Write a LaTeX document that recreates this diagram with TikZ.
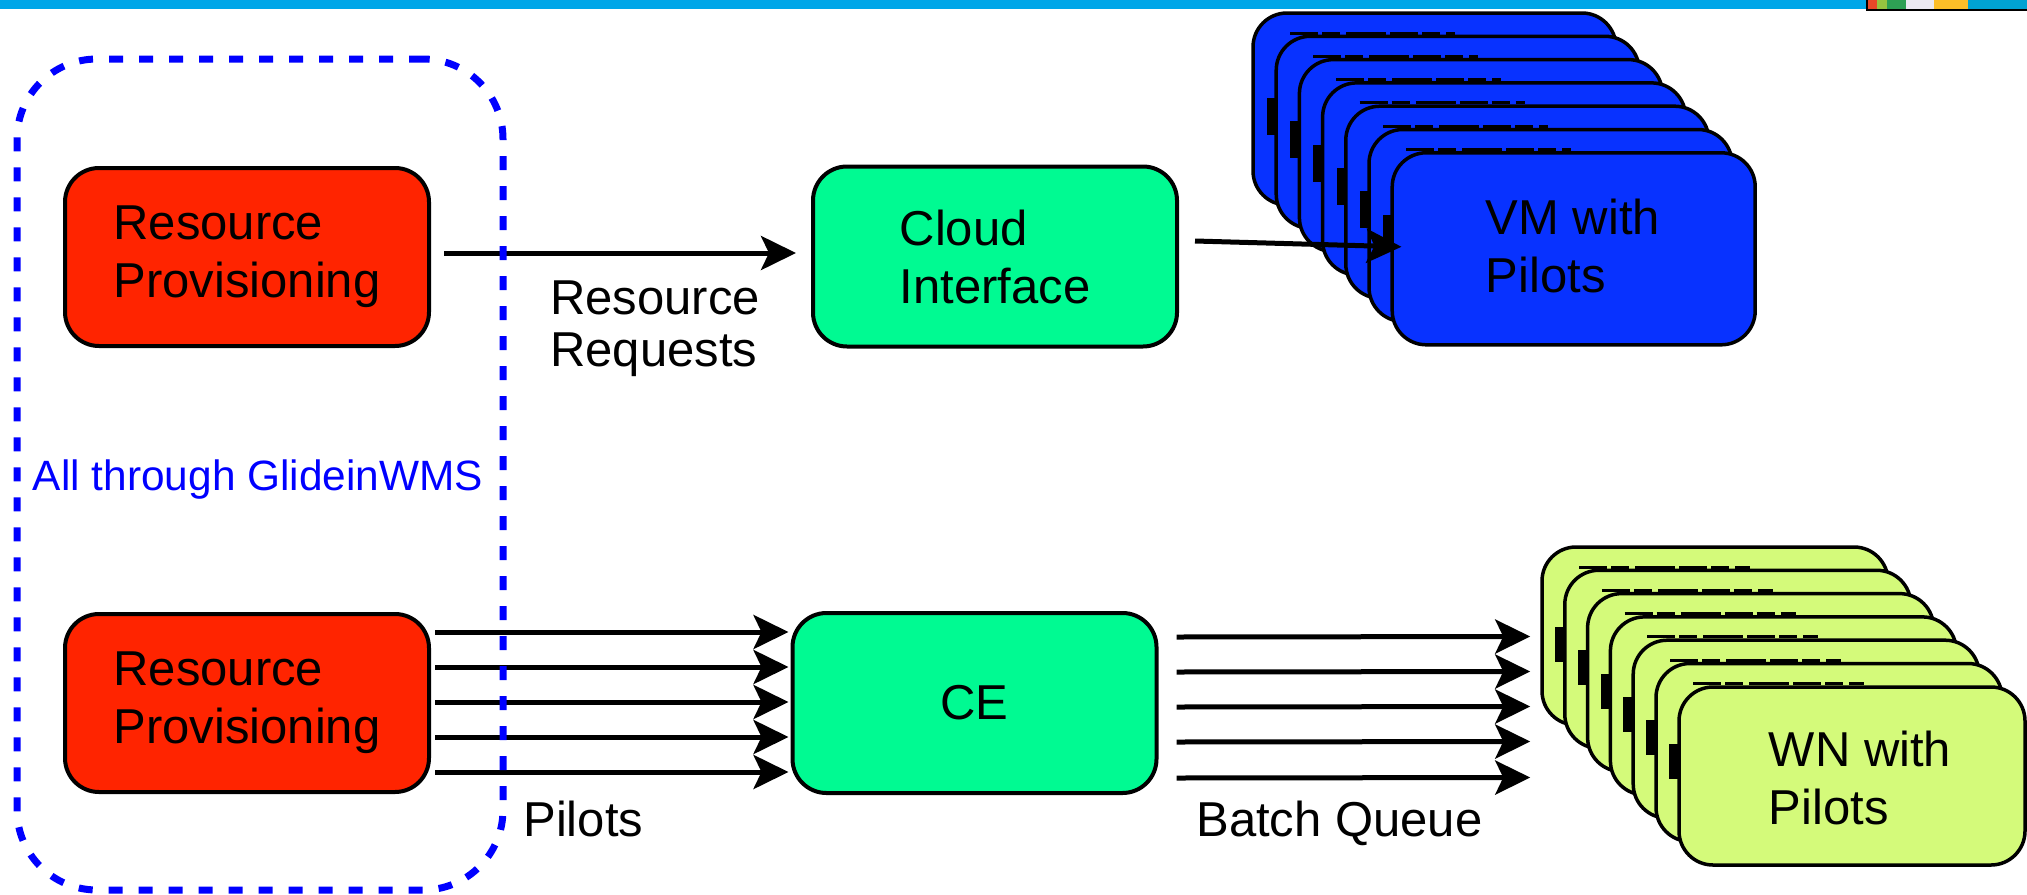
\documentclass[tikz,border=0pt]{standalone}
\usepackage{fontspec}
\setmainfont{Liberation Sans}
\usetikzlibrary{arrows.meta,calc}

\definecolor{provred}{RGB}{255,36,0}
\definecolor{ifgreen}{RGB}{0,250,146}
\definecolor{vmblue}{RGB}{8,50,255}
\definecolor{wnlime}{RGB}{212,250,122}
\definecolor{gwblue}{RGB}{0,0,255}
\definecolor{barblue}{RGB}{0,166,232}
\definecolor{logored}{RGB}{232,72,40}
\definecolor{logolime}{RGB}{150,196,64}
\definecolor{logogreen}{RGB}{46,160,84}
\definecolor{logowhite}{RGB}{236,233,242}
\definecolor{logoyellow}{RGB}{253,190,40}
\definecolor{logoblue}{RGB}{0,162,210}

\begin{document}
\begin{tikzpicture}[x=0.5pt,y=-0.5pt,
  box/.style={draw=black, line width=2pt, rounded corners=17pt, align=left,
    inner sep=0pt, font=\fontsize{24.5}{29}\selectfont},
  provbox/.style={box, fill=provred, minimum width=182pt, minimum height=89pt},
  ifbox/.style={box, fill=ifgreen, minimum width=182pt, minimum height=90pt},
  vmcard/.style={box, fill=vmblue, line width=1.75pt, minimum width=181.5pt, minimum height=96pt},
  wncard/.style={box, fill=wnlime, line width=1.75pt, minimum width=173pt, minimum height=89pt},
  hidmark/.style={line width=1.5pt, dash pattern=on 14pt off 2pt on 9pt off 3pt on 20pt off 2pt},
  arr/.style={line width=2.5pt, -{Stealth[length=17.5pt,width=17pt,inset=4pt]}},
  lbl/.style={inner sep=0pt, align=left, font=\fontsize{24.5}{26}\selectfont},
  glidebox/.style={draw=gwblue, line width=3.5pt, dash pattern=on 7pt off 8pt,
    rounded corners=40pt, minimum width=243pt, minimum height=415.5pt, inner sep=0pt}
]
\useasboundingbox (0,0) rectangle (2027,894);
\fill[white] (0,0) rectangle (2027,894);

% header strip with the logo corner
\fill[barblue] (0,0) rectangle (2027,9);
\fill[logored] (1867,0) rectangle (1880,9);
\fill[logolime] (1877,0) rectangle (1887,9);
\fill[logogreen] (1887,0) rectangle (1906,9);
\fill[logowhite] (1906,0) rectangle (1934,9);
\fill[logoyellow] (1934,0) rectangle (1968,9);
\fill[logoblue] (1968,0) rectangle (2027,9);
\draw[black, line width=1pt] (1867,0) -- (1867,9.5) -- (2027,9.5);

% provisioning and interface boxes
\node[provbox] (rp1) at (247,257) {Resource\\Provisioning};
\node[provbox] (rp2) at (247,703) {Resource\\Provisioning};
\node[ifbox] (cloud) at (995,256.5) {Cloud\\Interface};
\node[ifbox] (ce) at (974.5,703) {CE};

% stack of virtual machines
\foreach \i in {0,...,5}{
  \pgfmathsetmacro{\cardx}{1253+23.2*\i}
  \pgfmathsetmacro{\cardy}{13+23.3*\i}
  \node[vmcard] (vm\i) at (\cardx+181.5,\cardy+96) {};
  \fill (\cardx+14,\cardy+85) rectangle (\cardx+22,\cardy+122);
  \draw[hidmark] (\cardx+37,\cardy+20) -- (\cardx+202,\cardy+20);
}
\node[vmcard] (vm6) at (1573.7,248.8) {};
\node[box, draw=none] (vmtext) at (1573,246) {VM with\\Pilots};

% stack of worker nodes
\foreach \i in {0,...,5}{
  \pgfmathsetmacro{\cardx}{1542+22.8*\i}
  \pgfmathsetmacro{\cardy}{547+23.3*\i}
  \node[wncard] (wn\i) at (\cardx+173,\cardy+89) {};
  \fill (\cardx+13,\cardy+80) rectangle (\cardx+22,\cardy+115);
  \draw[hidmark] (\cardx+37,\cardy+20) -- (\cardx+208,\cardy+20);
}
\node[wncard] (wn6) at (1852,776) {};
\node[box, draw=none] (wntext) at (1860,778) {WN with\\Pilots};

% connectors
\draw[arr] ([shift={(13,-4)}]rp1.east) -- ([shift={(-15,-3.5)}]cloud.west);
\draw[arr] ([shift={(16,-15.5)}]cloud.east) -- ([shift={(11,-2)}]vm6.west);
\foreach \dy in {-71,-36,-1,34,69}
  \draw[arr] ([shift={(4,\dy)}]rp2.east) -- ([shift={(-2,\dy)}]ce.west);
\foreach \dy in {-66,-31,4,39,75}
  \draw[arr] ([shift={(18,\dy)}]ce.east) -- ([shift={(-10,\dy+66.5)}]wn0.west);

% labels
\node[lbl] (reqlbl) at (655,329) {Resource\\Requests};
\node[lbl, anchor=base west] (pilotlbl) at (523,836) {Pilots};
\node[lbl, anchor=base west] (batchlbl) at (1196,836) {Batch Queue};

% GlideinWMS scope
\node[glidebox] (gwms) at (260,474.5) {};
\node[inner sep=0pt, anchor=base, text=gwblue, font=\fontsize{21.2}{25}\selectfont] (gwlbl) at (258,490) {All through GlideinWMS};
\end{tikzpicture}
\end{document}
